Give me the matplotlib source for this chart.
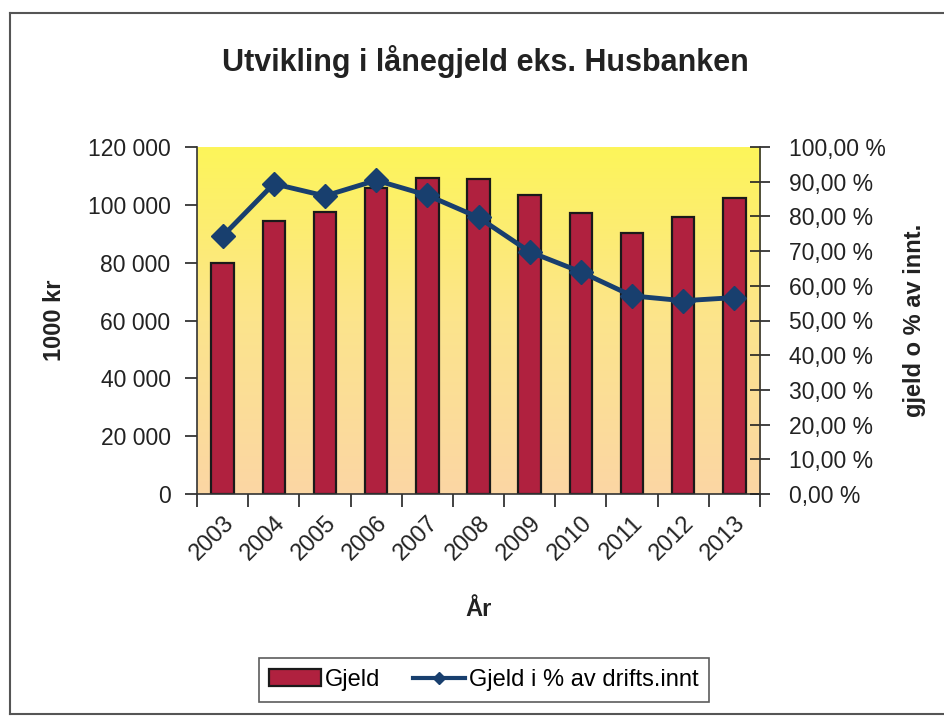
import matplotlib
matplotlib.use("Agg")
import matplotlib.pyplot as plt
import numpy as np
from matplotlib.lines import Line2D
from matplotlib.patches import Patch
from matplotlib.ticker import FuncFormatter, MultipleLocator
from matplotlib.colors import LinearSegmentedColormap

years = ["2003", "2004", "2005", "2006", "2007", "2008", "2009", "2010", "2011", "2012", "2013"]
gjeld = [80000, 94400, 97500, 105800, 109300, 108900, 103400, 97200, 90300, 95800, 102400]
gjeld_pct = [74.3, 89.4, 85.9, 90.4, 86.1, 79.7, 69.8, 64.0, 57.1, 55.7, 56.6]

plt.rcParams['font.family'] = ['Liberation Sans', 'DejaVu Sans']

W, H = 944, 716
fig = plt.figure(figsize=(W / 100, H / 100), dpi=100)

def fx(px):
    return px / W

def fy(py):
    return 1 - py / H

# outer frame
frame_col = "#555555"
fig.add_artist(Line2D([fx(10), fx(10)], [fy(13), fy(714)], color=frame_col, lw=1.5, transform=fig.transFigure))
fig.add_artist(Line2D([fx(10), fx(944)], [fy(13), fy(13)], color=frame_col, lw=1.5, transform=fig.transFigure))
fig.add_artist(Line2D([fx(10), fx(944)], [fy(714), fy(714)], color=frame_col, lw=1.5, transform=fig.transFigure))

left, right, top, bottom = 197, 760, 147, 494
ax = fig.add_axes([fx(left), fy(bottom), fx(right - left), fy(top) - fy(bottom)])

x = np.arange(len(years))
n = len(years)

# gradient background: peach at bottom, yellow at top
grad = np.linspace(0, 1, 256).reshape(-1, 1)
cmap = LinearSegmentedColormap.from_list("bg", ["#FBD6A4", "#FCE48C", "#FDF55A"])
ax.imshow(grad, extent=[-0.5, n - 0.5, 0, 120000], aspect='auto', cmap=cmap, zorder=0, origin='lower')
ax.set_xlim(-0.5, n - 0.5)
ax.set_ylim(0, 120000)

ax.bar(x, gjeld, width=0.44, color="#B0213F", edgecolor="#1a1a1a", linewidth=1.6, zorder=2)

for s in ["top", "right"]:
    ax.spines[s].set_visible(False)
ax.spines["left"].set_color("#333333")
ax.spines["bottom"].set_color("#333333")
ax.spines["left"].set_linewidth(1.2)
ax.spines["bottom"].set_linewidth(1.2)

ax.yaxis.set_major_locator(MultipleLocator(20000))
ax.yaxis.set_major_formatter(FuncFormatter(lambda v, p: f"{int(v):,}".replace(",", " ")))
ax.tick_params(axis='y', labelsize=16.5, direction='out', length=9, width=1.2, colors="#222222", pad=10)
ax.set_xticks(np.arange(n + 1) - 0.5, minor=False)
ax.set_xticklabels([])
ax.tick_params(axis='x', direction='out', length=9, width=1.2, colors="#222222")
ax.set_xticks(x, minor=True)
ax.set_xticklabels(years, minor=True, rotation=45, ha='right', va='top', rotation_mode='anchor', fontsize=17)
ax.tick_params(axis='x', which='minor', length=0, pad=13, labelcolor="#222222")
ax.set_ylabel("1000 kr", fontsize=17, fontweight='bold', labelpad=16, color="#222222")
ax.set_xlabel("År", fontsize=17, fontweight='bold', labelpad=24, color="#222222")

ax2 = ax.twinx()
ax2.set_ylim(0, 100)
ax2.plot(x, gjeld_pct, color="#183F6E", lw=3.5, marker='D', markersize=12, markerfacecolor="#183F6E", markeredgecolor="#183F6E", zorder=3)
for s in ["top", "left", "bottom"]:
    ax2.spines[s].set_visible(False)
ax2.spines["right"].set_color("#333333")
ax2.spines["right"].set_linewidth(1.2)
ax2.yaxis.set_major_locator(MultipleLocator(10))
ax2.yaxis.set_major_formatter(FuncFormatter(lambda v, p: f"{v:.2f}".replace(".", ",") + " %"))
ax2.tick_params(axis='y', labelsize=16.5, direction='inout', length=14, width=1.2, colors="#222222", pad=14)
ax2.set_ylabel("gjeld o % av innt.", fontsize=17, fontweight='bold', labelpad=12, color="#222222")

fig.suptitle("Utvikling i lånegjeld eks. Husbanken", x=fx(485), y=fy(62), va='center', fontsize=22, fontweight='bold', color="#222222")

handles = [Patch(facecolor="#B0213F", edgecolor="#1a1a1a", linewidth=1.6),
           Line2D([0], [0], color="#183F6E", lw=3, marker='D', markersize=6)]
leg = fig.legend(handles, ["Gjeld", "Gjeld i % av drifts.innt"], loc='center', bbox_to_anchor=(fx(484), fy(680)),
                 ncol=2, fontsize=17, frameon=True, fancybox=False, edgecolor="#333333",
                 handlelength=2.2, handletextpad=0.15, columnspacing=1.4, borderpad=0.45)
leg.get_frame().set_linewidth(1.2)

fig.savefig("out.png", dpi=100)
